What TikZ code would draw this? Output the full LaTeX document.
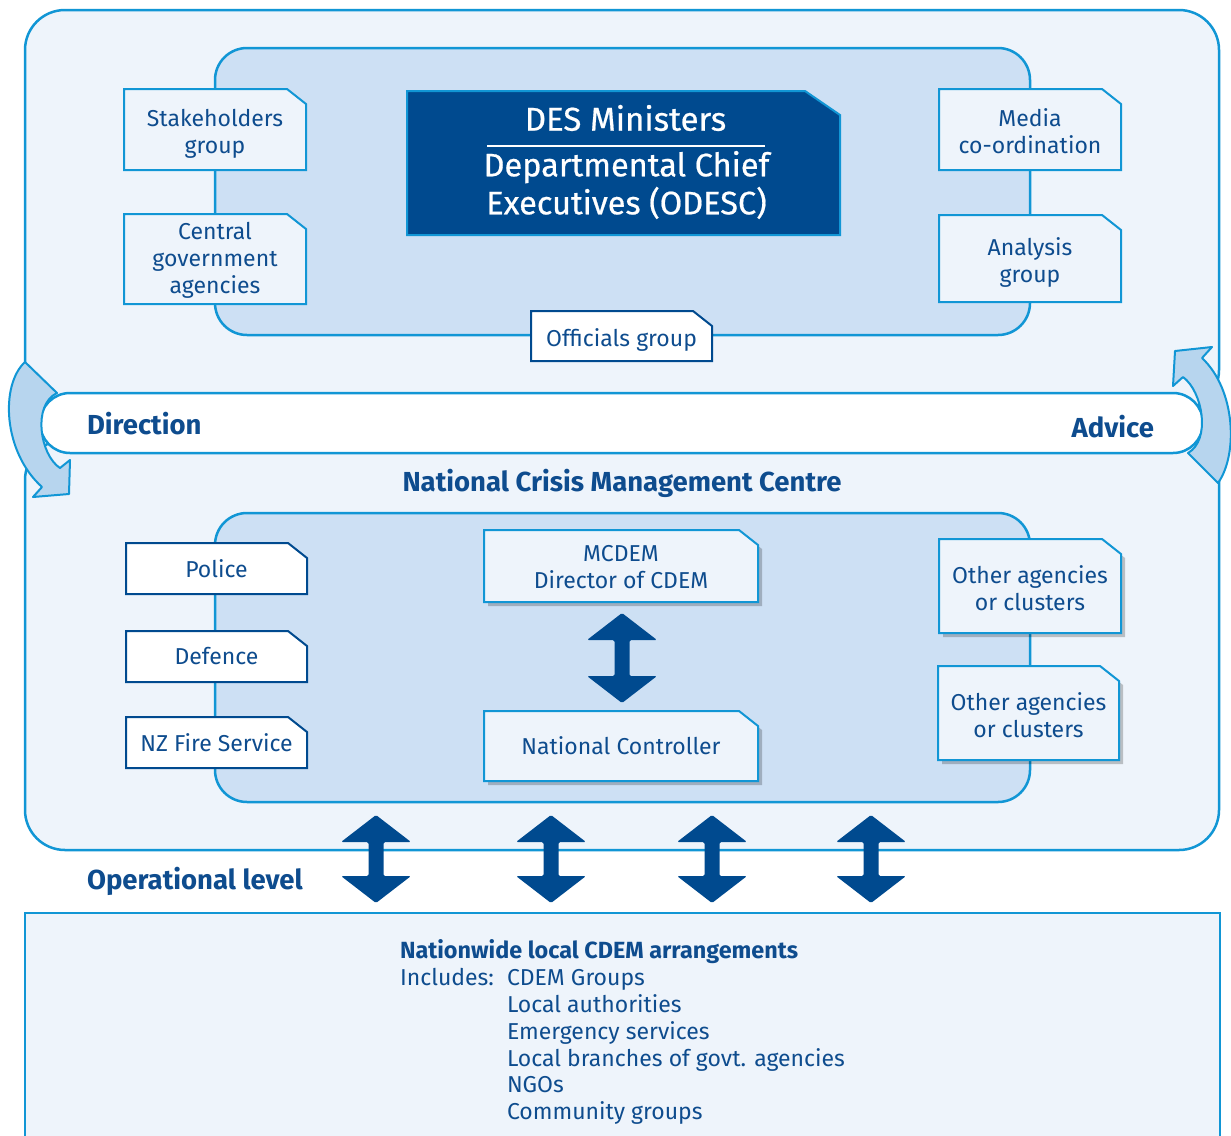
\documentclass[tikz,border=0pt]{standalone}
\usepackage{fontspec}
\setmainfont{Fira Sans}
\newfontfamily\desfont[FakeBold=0.6]{Fira Sans}
\usetikzlibrary{calc,shadows}
\definecolor{lineblue}{HTML}{1196D5}
\definecolor{palefill}{HTML}{EEF4FB}
\definecolor{innerfill}{HTML}{CDE0F4}
\definecolor{navy}{HTML}{004A8F}
\definecolor{txtblue}{HTML}{0E4C8E}
\definecolor{arrfill}{HTML}{B7D5EE}
\pgfdeclarelayer{bg}\pgfdeclarelayer{mid}
\pgfsetlayers{bg,mid,main}
\newcommand\cutoutline[2]{%
  \path[#2] (#1.north west) -- ([xshift=-19pt]#1.north east) -- ([yshift=-15pt]#1.north east) -- (#1.south east) -- (#1.south west) -- cycle;}
\newcommand\dblarr[2]{%
  \fill[navy, rounded corners=1.5pt] let \p1=#1, \p2=#2 in
   (\x1,\y1) -- (\x1+35pt,\y1-27pt) -- (\x1+7.5pt,\y1-27pt) -- (\x1+7.5pt,\y2+27pt) -- (\x1+35pt,\y2+27pt)
   -- (\x1,\y2) -- (\x1-35pt,\y2+27pt) -- (\x1-7.5pt,\y2+27pt) -- (\x1-7.5pt,\y1-27pt) -- (\x1-35pt,\y1-27pt) -- cycle;}
\newcommand\lowered[2]{\raisebox{-#1}[\height][\depth]{\begin{tabular}{@{}c@{}}#2\end{tabular}}}
\begin{document}
\begin{tikzpicture}[x=1pt,y=-1pt,
  every node/.style={inner sep=0pt, outer sep=0pt, text=txtblue, font=\fontsize{23}{27}\selectfont, align=center},
  bigbox/.style={draw=lineblue, line width=2.5pt, fill=palefill, rounded corners=40pt},
  innerbox/.style={draw=lineblue, line width=2.5pt, fill=innerfill, rounded corners=32pt},
  bandbox/.style={draw=lineblue, line width=2.5pt, fill=white, rounded corners=30pt},
  curvearr/.style={draw=lineblue, line width=2pt, fill=arrfill, line join=round},
  lightnote/.style={draw=lineblue, line width=2pt, fill=palefill},
  whitenote/.style={draw=navy, line width=2pt, fill=white},
  shadenote/.style={lightnote, drop shadow={shadow xshift=4pt, shadow yshift=-4pt, fill=black, opacity=0.22}},
  heading/.style={font=\bfseries\fontsize{27.5}{31}\selectfont},
  notesz/.style 2 args={minimum width=#1pt, minimum height=#2pt}
]
\useasboundingbox (0,0) rectangle (1231,1135);
\begin{pgfonlayer}{bg}
  \fill[white] (0,0) rectangle (1231,1135);
  \path[bigbox] (25,10) rectangle (1219,410);
  \path[bigbox] (25,440) rectangle (1219,850);
  \path[draw=lineblue, line width=2.5pt, fill=palefill] (25,1150) -- (25,913) -- (1220,913) -- (1220,1150);
  \path[innerbox] (215,48) rectangle (1030,335);
  \path[innerbox] (215,513) rectangle (1030,802);
  \path[bandbox] (40,393) rectangle (1203,453);
  % Direction arrow
  \path[curvearr] (25,362) .. controls (0,385) and (3,452) .. (42,487) -- (33,497) -- (69,494) -- (70,460)
     -- (60,468) .. controls (40,455) and (32,405) .. (57,393) -- cycle;
  % Advice arrow
  \path[curvearr] (1218,483) .. controls (1238,455) and (1236,390) .. (1202,358) -- (1212,347) -- (1175,351)
     -- (1173,386) -- (1183,377) .. controls (1203,392) and (1211,440) .. (1188,453) -- cycle;
\end{pgfonlayer}

% top level nodes
\node[notesz={182}{81}] (stake) at (215,129.5) {\lowered{5pt}{Stakeholders\\group}};
\node[notesz={182}{90}] (cgov) at (215,259) {\lowered{2pt}{Central\\government\\agencies}};
\node[notesz={182}{81}] (media) at (1030,129.5) {\lowered{5pt}{Media\\co-ordination}};
\node[notesz={182}{87}] (anal) at (1030,258.5) {\lowered{5pt}{Analysis\\group}};
\node[notesz={433}{144}] (des) at (623.5,163) {};
\node[text=white, font=\desfont\fontsize{33}{38}\selectfont] (desmin) at (625.5,118) {DES Ministers};
\node[text=white, font=\desfont\fontsize{32.5}{38}\selectfont] (desodesc) at (626.5,185) {Departmental Chief\\Executives (ODESC)};
\node[notesz={181}{50}] (offic) at (621.5,336) {\lowered{5pt}{Officials group}};

% band labels
\node[heading, anchor=west] (dir) at (87,424) {Direction};
\node[heading, anchor=east] (adv) at (1154,427) {Advice};
\node[heading] (ncmc) at (622,483) {National Crisis Management Centre};

% NCMC nodes
\node[notesz={181}{51}] (police) at (216.5,568.5) {Police};
\node[notesz={181}{51}] (defence) at (216.5,656.5) {Defence};
\node[notesz={181}{51}] (fire) at (216.5,742.5) {NZ Fire Service};
\node[notesz={274}{72}] (mcdem) at (621,566) {\lowered{4pt}{MCDEM\\Director of CDEM}};
\node[notesz={274}{70}] (natc) at (621,746) {National Controller};
\node[notesz={182}{94}] (other1) at (1030,586) {\lowered{6pt}{Other agencies\\or clusters}};
\node[notesz={181}{94}] (other2) at (1028.5,713) {\lowered{6pt}{Other agencies\\or clusters}};

% operational
\node[heading, anchor=west] (oplev) at (87,881) {Operational level};
\node[anchor=north west, align=left, font=\fontsize{23}{26.8}\selectfont] (local) at (400,940)
  {{\bfseries\fontsize{23.4}{26.8}\selectfont Nationwide local CDEM arrangements}\\
   \makebox[107pt][l]{Includes:}CDEM Groups\\
   \hspace*{107pt}Local authorities\\
   \hspace*{107pt}Emergency services\\
   \hspace*{107pt}Local branches of govt. agencies\\
   \hspace*{107pt}NGOs\\
   \hspace*{107pt}Community groups};

\begin{pgfonlayer}{mid}
  \cutoutline{stake}{lightnote}
  \cutoutline{cgov}{lightnote}
  \cutoutline{media}{lightnote}
  \cutoutline{anal}{lightnote}
  \path[draw=lineblue, line width=2pt, fill=navy] (des.north west) -- ([xshift=-35pt]des.north east)
     -- ([yshift=-24pt]des.north east) -- (des.south east) -- (des.south west) -- cycle;
  \draw[white, line width=1.2pt] (487,146) -- (765,146);
  \cutoutline{offic}{whitenote}
  \cutoutline{police}{whitenote}
  \cutoutline{defence}{whitenote}
  \cutoutline{fire}{whitenote}
  \cutoutline{mcdem}{shadenote}
  \cutoutline{natc}{shadenote}
  \cutoutline{other1}{shadenote}
  \cutoutline{other2}{shadenote}
\end{pgfonlayer}

% double arrows
\dblarr{($(mcdem.south)+(1,11)$)}{($(natc.north)+(1,-8)$)}
\coordinate (o1t) at (376,815); \coordinate (o1b) at (376,903);
\coordinate (o2t) at (551,815); \coordinate (o2b) at (551,903);
\coordinate (o3t) at (712,815); \coordinate (o3b) at (712,903);
\coordinate (o4t) at (871,815); \coordinate (o4b) at (871,903);
\dblarr{(o1t)}{(o1b)}
\dblarr{(o2t)}{(o2b)}
\dblarr{(o3t)}{(o3b)}
\dblarr{(o4t)}{(o4b)}
\end{tikzpicture}
\end{document}
